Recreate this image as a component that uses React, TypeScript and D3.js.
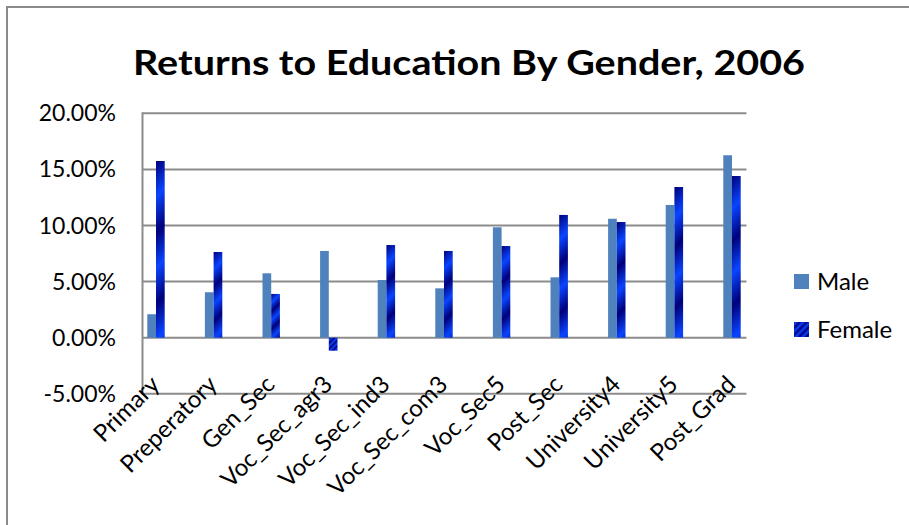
import React, { useEffect, useRef } from 'react'
import * as d3 from 'd3'

// Returns to education by level, 2006
const categories = [
  'Primary',
  'Preperatory',
  'Gen_Sec',
  'Voc_Sec_agr3',
  'Voc_Sec_ind3',
  'Voc_Sec_com3',
  'Voc_Sec5',
  'Post_Sec',
  'University4',
  'University5',
  'Post_Grad',
]
const maleValues = [0.0209, 0.0405, 0.0574, 0.0773, 0.0514, 0.044, 0.0984, 0.0538, 0.106, 0.1183, 0.1626]
const femaleValues = [0.1575, 0.0764, 0.039, -0.0116, 0.0826, 0.0773, 0.0817, 0.1094, 0.1031, 0.1343, 0.1441]
const yTicks = [-0.05, 0, 0.05, 0.1, 0.15, 0.2]
const seriesNames = ['Male', 'Female']

const FONT = 'Lato, "Open Sans", sans-serif'

export default function App() {
  const svgRef = useRef<SVGSVGElement>(null)

  useEffect(() => {
    if (!svgRef.current) return
    const width = 909
    const height = 525
    const svg = d3.select(svgRef.current)
    svg.selectAll('*').remove()
    svg.attr('width', width).attr('height', height)

    // outer chart frame (cut off at right / bottom like the source)
    svg
      .append('rect')
      .attr('x', 7)
      .attr('y', 7)
      .attr('width', 1000)
      .attr('height', 1000)
      .attr('fill', '#fff')
      .attr('stroke', '#8a8a8a')
      .attr('stroke-width', 2)

    const plot = { left: 142.5, right: 746.5, top: 113.3, bottom: 393.8 }

    const y = d3.scaleLinear().domain([-0.05, 0.2]).range([plot.bottom, plot.top])
    const x = d3.scalePoint<string>().domain(categories).range([156, 732])
    const barW = 8.7
    const pct = (d: number) => d3.format('.2%')(d).replace('\u2212', '-')

    const defs = svg.append('defs')

    // gridlines
    svg
      .append('g')
      .selectAll('line')
      .data(yTicks)
      .join('line')
      .attr('x1', plot.left)
      .attr('x2', plot.right)
      .attr('y1', (d) => y(d))
      .attr('y2', (d) => y(d))
      .attr('stroke', '#8c8c8c')
      .attr('stroke-width', 2)

    // value axis line
    svg
      .append('line')
      .attr('x1', plot.left)
      .attr('x2', plot.left)
      .attr('y1', plot.top - 1)
      .attr('y2', plot.bottom + 1)
      .attr('stroke', '#8c8c8c')
      .attr('stroke-width', 2)

    // y tick labels
    svg
      .append('g')
      .selectAll('text')
      .data(yTicks)
      .join('text')
      .attr('x', 116)
      .attr('y', (d) => y(d))
      .attr('dy', '0.35em')
      .attr('text-anchor', 'end')
      .style('font-family', FONT)
      .style('font-size', '23px')
      .attr('fill', '#000')
      .text((d) => pct(d))

    // male bars
    svg
      .append('g')
      .selectAll('rect')
      .data(maleValues)
      .join('rect')
      .attr('x', (_, i) => (x(categories[i]) as number) - barW)
      .attr('y', (d) => Math.min(y(d), y(0)))
      .attr('width', barW)
      .attr('height', (d) => Math.abs(y(d) - y(0)))
      .attr('fill', '#4f81bd')

    // female bars, diagonal "ocean" gradient stretched per bar
    femaleValues.forEach((v, i) => {
      const bx = x(categories[i]) as number
      const by = Math.min(y(v), y(0))
      const bh = Math.abs(y(v) - y(0))
      const period = Math.max(bh / 3.5, 4)
      const g = defs
        .append('linearGradient')
        .attr('id', `fg${i}`)
        .attr('gradientUnits', 'userSpaceOnUse')
        .attr('spreadMethod', 'repeat')
        .attr('x1', bx)
        .attr('y1', by)
        .attr('x2', bx + period / Math.SQRT2)
        .attr('y2', by + period / Math.SQRT2)
      g.append('stop').attr('offset', 0).attr('stop-color', '#00007a')
      g.append('stop').attr('offset', 0.5).attr('stop-color', '#0a45ff')
      g.append('stop').attr('offset', 1).attr('stop-color', '#00007a')
      svg
        .append('rect')
        .attr('x', bx)
        .attr('y', by)
        .attr('width', barW)
        .attr('height', bh)
        .attr('fill', `url(#fg${i})`)
    })

    // category labels
    svg
      .append('g')
      .selectAll('text')
      .data(categories)
      .join('text')
      .attr('transform', (d) => `translate(${(x(d) as number) + 5},${386}) rotate(-45)`)
      .attr('text-anchor', 'end')
      .style('font-family', FONT)
      .style('font-size', '24px')
      .attr('fill', '#000')
      .text((d) => d)

    // title
    svg
      .append('text')
      .attr('x', 469)
      .attr('y', 74.5)
      .attr('text-anchor', 'middle')
      .attr('textLength', 672)
      .attr('lengthAdjust', 'spacingAndGlyphs')
      .style('font-family', FONT)
      .style('font-weight', 'bold')
      .style('font-size', '35px')
      .attr('fill', '#000')
      .text('Returns to Education By Gender, 2006')

    // legend
    const lg = defs
      .append('linearGradient')
      .attr('id', 'fgLegend')
      .attr('gradientUnits', 'userSpaceOnUse')
      .attr('spreadMethod', 'repeat')
      .attr('x1', 794)
      .attr('y1', 322)
      .attr('x2', 794 + 5 / Math.SQRT2)
      .attr('y2', 322 + 5 / Math.SQRT2)
    lg.append('stop').attr('offset', 0).attr('stop-color', '#00007a')
    lg.append('stop').attr('offset', 0.5).attr('stop-color', '#0a45ff')
    lg.append('stop').attr('offset', 1).attr('stop-color', '#00007a')

    const legend = svg
      .append('g')
      .selectAll('g')
      .data(seriesNames)
      .join('g')
      .attr('transform', (_, i) => `translate(794,${274 + i * 48})`)
    legend
      .append('rect')
      .attr('width', 15)
      .attr('height', 15)
      .attr('fill', (_, i) => (i === 0 ? '#4f81bd' : 'url(#fgLegend)'))
    legend
      .append('text')
      .attr('x', 23)
      .attr('y', 7.5)
      .attr('dy', '0.35em')
      .style('font-family', FONT)
      .style('font-size', '24px')
      .attr('fill', '#000')
      .text((d) => d)
  }, [])

  return (
    <div style={{ position: 'absolute', left: 0, top: 0 }}>
      <svg ref={svgRef}></svg>
    </div>
  )
}
